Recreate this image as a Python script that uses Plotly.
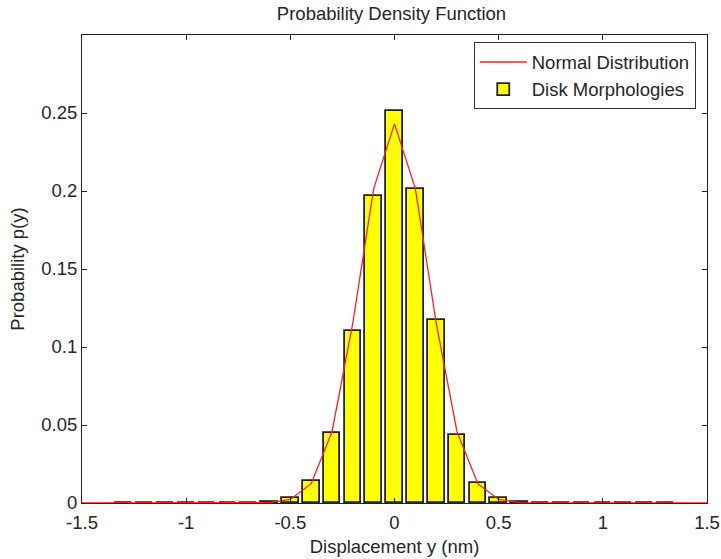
import plotly.graph_objects as go

# Histogram bins (bin centres) and probabilities
bin_centers = [-1.3, -1.2, -1.1, -1.0, -0.9, -0.8, -0.7, -0.6, -0.5, -0.4, -0.3, -0.2, -0.1,
               0.0, 0.1, 0.2, 0.3, 0.4, 0.5, 0.6, 0.7, 0.8, 0.9, 1.0, 1.1, 1.2, 1.3]
bin_probs = [0, 0, 0, 0, 0, 0, 0, 0.0005, 0.003, 0.014, 0.045, 0.110, 0.197,
             0.251, 0.201, 0.117, 0.0435, 0.0127, 0.003, 0.0005, 0, 0, 0, 0, 0, 0, 0]

# Normal distribution curve (vertices)
normal_x = [-1.5, -0.8, -0.7, -0.6, -0.5, -0.4, -0.3, -0.2, -0.1, 0.0,
            0.1, 0.2, 0.3, 0.4, 0.5, 0.6, 0.7, 0.8, 1.5]
normal_y = [0, 0, 0.00003, 0.0003, 0.0023, 0.0124, 0.0457, 0.1155, 0.2015, 0.243,
            0.2015, 0.1155, 0.0457, 0.0124, 0.0023, 0.0003, 0.00003, 0, 0]

x_ticks = [-1.5, -1, -0.5, 0, 0.5, 1, 1.5]
x_tick_labels = ["-1.5", "-1", "-0.5", "0", "0.5", "1", "1.5"]
y_ticks = [0, 0.05, 0.1, 0.15, 0.2, 0.25]
y_tick_labels = ["0", "0.05", "0.1", "0.15", "0.2", "0.25"]

FONT = "Liberation Sans, Arial, sans-serif"
FS = 18.5
TXT = "#262626"

W, H = 721, 559

fig = go.Figure()
fig.add_trace(go.Bar(
    x=bin_centers, y=bin_probs, width=0.08,
    name="Disk Morphologies",
    marker=dict(color="#ffff00", line=dict(color="#222222", width=1.8)),
    legendrank=2,
))
fig.add_trace(go.Scatter(
    x=normal_x, y=normal_y, mode="lines",
    name="Normal Distribution",
    line=dict(color="#ff2020", width=1.3),
    legendrank=1,
))

fig.update_layout(
    width=W, height=H,
    margin=dict(l=82, r=14, t=35, b=56, autoexpand=False),
    paper_bgcolor="white", plot_bgcolor="white",
    font=dict(family=FONT, size=FS, color=TXT),
    title=dict(text="Probability Density Function", x=0.543, xanchor="center",
               xref="container", y=0.975, yref="container", yanchor="middle",
               font=dict(family=FONT, size=FS, color=TXT)),
    showlegend=True,
    legend=dict(x=0.982, y=0.984, xanchor="right", yanchor="top",
                bgcolor="white", bordercolor="#333333", borderwidth=1,
                font=dict(family=FONT, size=FS, color=TXT),
                tracegroupgap=0, itemwidth=47),
    bargap=0,
    xaxis=dict(range=[-1.5, 1.5], tickvals=x_ticks, ticktext=x_tick_labels,
               ticks="inside", ticklen=5, tickcolor="#222222",
               showline=True, linecolor="#222222", linewidth=1, mirror="ticks",
               showgrid=False, zeroline=False, automargin=False,
               ticklabelstandoff=3,
               tickfont=dict(family=FONT, size=FS, color=TXT),
               title=dict(text="Displacement y (nm)", standoff=7,
                          font=dict(family=FONT, size=FS, color=TXT))),
    yaxis=dict(range=[0, 0.3], tickvals=y_ticks, ticktext=y_tick_labels,
               ticks="inside", ticklen=5, tickcolor="#222222",
               showline=True, linecolor="#222222", linewidth=1, mirror="ticks",
               showgrid=False, zeroline=False, automargin=False,
               tickfont=dict(family=FONT, size=FS, color=TXT),
               title=dict(text="Probability p(y)", standoff=11,
                          font=dict(family=FONT, size=FS, color=TXT))),
)

# remove the default 8px body margin so the figure sits at the page origin
fig.write_html("out.html", config={"displayModeBar": False},
               post_script="document.body.style.margin='0px';")
